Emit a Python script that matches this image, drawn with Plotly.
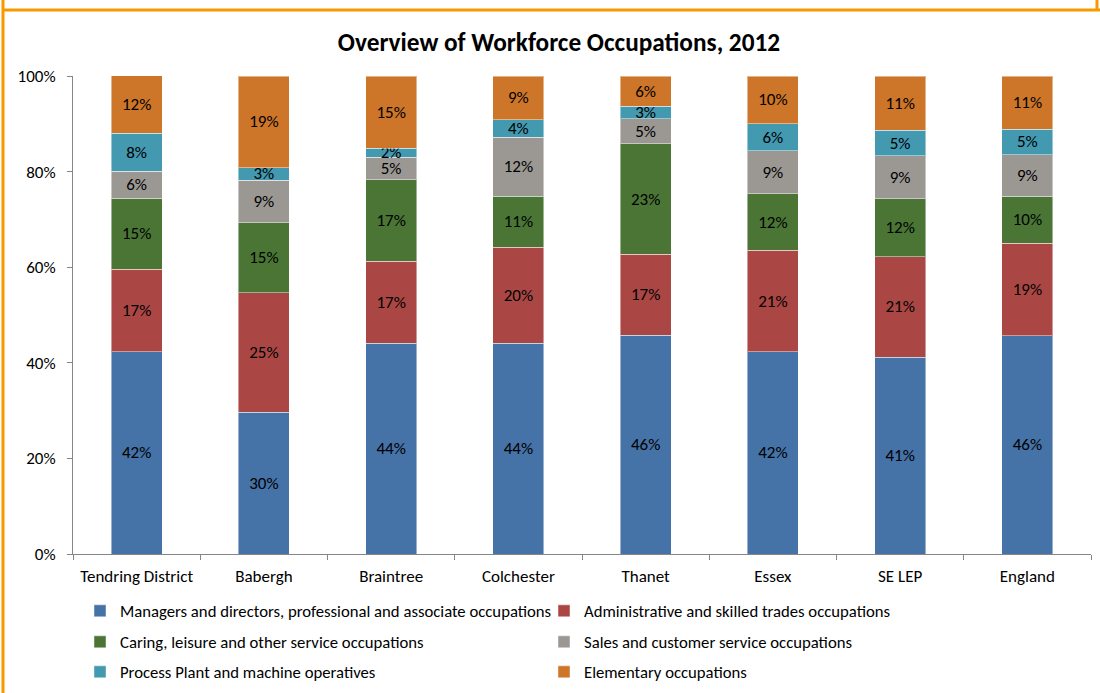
import plotly.graph_objects as go

categories = ["Tendring District", "Babergh", "Braintree", "Colchester",
              "Thanet", "Essex", "SE LEP", "England"]

managers = [42.3, 29.7, 44.1, 44.1, 45.8, 42.3, 41.2, 45.7]
admin = [17.3, 25.0, 17.1, 20.1, 16.9, 21.2, 21.0, 19.3]
caring = [14.8, 14.6, 17.1, 10.6, 23.1, 11.9, 12.1, 9.8]
sales = [5.7, 8.9, 4.7, 12.4, 5.3, 9.0, 9.0, 8.7]
process = [7.9, 2.6, 1.9, 3.6, 2.6, 5.6, 5.3, 5.4]
elementary = [12.2, 19.2, 15.1, 9.2, 6.3, 10.0, 11.4, 11.1]

series_names = [
    "Managers and directors, professional and associate occupations",
    "Administrative and skilled trades occupations",
    "Caring, leisure and other service occupations",
    "Sales and customer service occupations",
    "Process Plant and machine operatives",
    "Elementary occupations",
]
series_values = [managers, admin, caring, sales, process, elementary]
colors = ["#4572a7", "#aa4744", "#4a7535", "#9b9793", "#4299b0", "#cd7528"]
legend_ids = ["legend", "legend", "legend2", "legend2", "legend3", "legend3"]

y_tickvals = [0, 20, 40, 60, 80, 100]
y_ticktext = ["0%", "20%", "40%", "60%", "80%", "100%"]

FONT = "Carlito, Lato, 'Open Sans', sans-serif"
FS = 17

fig = go.Figure()
for name, vals, col, lg in zip(series_names, series_values, colors, legend_ids):
    fig.add_trace(go.Bar(
        x=categories, y=vals, name=name,
        marker=dict(color=col, line=dict(color="rgba(255,255,255,0.45)", width=1)),
        texttemplate="%{y:.0f}%",
        textposition="inside",
        insidetextanchor="middle",
        textangle=0,
        textfont=dict(family=FONT, size=FS, color="#000000"),
        legend=lg,
        hoverinfo="skip",
    ))

# plot-area geometry (pixels) for helper conversions
L, R, T, B = 73, 9, 76, 139
W, H = 1100, 693
PW, PH = W - L - R, H - T - B

def px(xp):
    return (xp - L) / PW

def py(yp):
    return (H - B - yp) / PH

legend_common = dict(
    orientation="h", xanchor="left", yanchor="middle",
    font=dict(family=FONT, size=16.7, color="#000000"),
    entrywidth=419, entrywidthmode="pixels",
    bgcolor="rgba(0,0,0,0)", itemclick=False, itemdoubleclick=False,
    traceorder="normal",
)

fig.update_layout(
    width=W, height=H,
    margin=dict(l=L, r=R, t=T, b=B, autoexpand=False),
    paper_bgcolor="white", plot_bgcolor="white",
    barmode="stack", bargap=0.6,
    uniformtext=dict(minsize=FS, mode="show"),
    font=dict(family=FONT, size=FS, color="#000000"),
    title=dict(text="<b>Overview of Workforce Occupations, 2012</b>",
               x=559 / W, xref="container", xanchor="center",
               y=1 - 42 / H, yanchor="middle", yref="container",
               font=dict(family=FONT, size=25.3, color="#000000")),
    xaxis=dict(type="category", showgrid=False, showline=True,
               linecolor="#868686", linewidth=1,
               ticks="outside", ticklen=5, tickcolor="#868686",
               tickson="boundaries", ticklabelstandoff=7,
               tickfont=dict(family=FONT, size=FS, color="#000000")),
    yaxis=dict(range=[0, 100], tickvals=y_tickvals, ticktext=y_ticktext,
               showgrid=False, showline=True, linecolor="#868686", linewidth=1,
               ticks="outside", ticklen=5, tickcolor="#868686",
               zeroline=False, ticklabelstandoff=8,
               tickfont=dict(family=FONT, size=FS, color="#000000")),
    legend=dict(x=px(80), y=py(611), **legend_common),
    legend2=dict(x=px(80), y=py(642), **legend_common),
    legend3=dict(x=px(80), y=py(672), **legend_common),
    showlegend=True,
)

orange = "#f79a00"
fig.add_shape(type="line", xref="paper", yref="paper",
              x0=px(3), x1=px(3), y0=py(0), y1=py(H),
              line=dict(color=orange, width=3))
fig.add_shape(type="line", xref="paper", yref="paper",
              x0=px(3), x1=px(W), y0=py(10), y1=py(10),
              line=dict(color=orange, width=3))
fig.add_shape(type="line", xref="paper", yref="paper",
              x0=px(1097), x1=px(1097), y0=py(0), y1=py(10),
              line=dict(color=orange, width=3))

fig.write_html(
    "out.html",
    config={"displayModeBar": False},
    post_script="document.body.style.margin='0';document.body.style.overflow='hidden';",
)
